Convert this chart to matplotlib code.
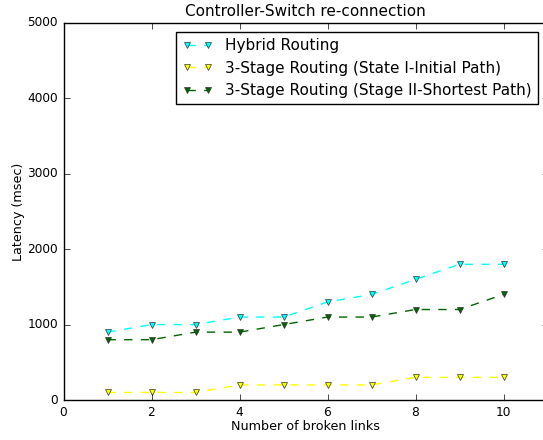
import matplotlib
matplotlib.use('Agg')
import matplotlib.pyplot as plt

# Data
broken_links = [1, 2, 3, 4, 5, 6, 7, 8, 9, 10]
hybrid = [900, 1000, 1000, 1100, 1100, 1300, 1400, 1600, 1800, 1800]
stage_initial = [100, 100, 100, 200, 200, 200, 200, 300, 300, 300]
stage_shortest = [800, 800, 900, 900, 1000, 1100, 1100, 1200, 1200, 1400]

labels = ['Hybrid Routing',
          '3-Stage Routing (State I-Initial Path)',
          '3-Stage Routing (Stage II-Shortest Path)']
colors = ['cyan', 'yellow', 'darkgreen']

plt.style.use('classic')

fig = plt.figure(figsize=(5.43, 4.4), dpi=100, facecolor='white')
ax = fig.add_axes([63.5 / 543, 40 / 440, 484 / 543, 377 / 440])

for series, label, color in zip([hybrid, stage_initial, stage_shortest], labels, colors):
    ax.plot(broken_links, series, linestyle='--', color=color, marker='v',
            markersize=5, markerfacecolor=color, markeredgecolor='#333333',
            markeredgewidth=0.5, linewidth=1, label=label)

ax.set_xlim(0, 11)
ax.set_ylim(0, 5000)
ax.set_xticks([0, 2, 4, 6, 8, 10])
ax.set_yticks([0, 1000, 2000, 3000, 4000, 5000])
ax.tick_params(labelsize=8.7)

ax.set_title('Controller-Switch re-connection', fontsize=11)
ax.set_xlabel('Number of broken links', fontsize=9.2, labelpad=1)
ax.set_ylabel('Latency (msec)', fontsize=9.2, labelpad=2)

ax.legend(loc='upper left', bbox_to_anchor=(176 / 543, 1 - 32 / 440),
          bbox_transform=fig.transFigure, borderaxespad=0, numpoints=2,
          fontsize=11, fancybox=False, frameon=True)

fig.savefig('out.png', dpi=100, facecolor='white')
